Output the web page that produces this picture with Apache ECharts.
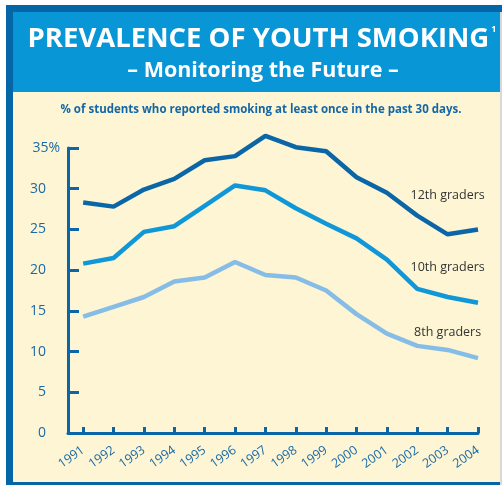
<!DOCTYPE html>
<html><head><meta charset="utf-8">
<script src="https://cdn.jsdelivr.net/npm/echarts@6/dist/echarts.min.js"></script>
<style>html,body{margin:0;padding:0;background:#fff}#c{width:502px;height:485px}</style>
</head><body><div id="c"></div>
<script>
const years = [1991,1992,1993,1994,1995,1996,1997,1998,1999,2000,2001,2002,2003,2004];
const grade12 = [28.3,27.8,29.9,31.2,33.5,34.0,36.5,35.1,34.6,31.4,29.5,26.7,24.4,25.0];
const grade10 = [20.8,21.5,24.7,25.4,27.9,30.4,29.8,27.6,25.7,23.9,21.3,17.7,16.7,16.0];
const grade8  = [14.3,15.5,16.7,18.6,19.1,21.0,19.4,19.1,17.5,14.6,12.2,10.7,10.2,9.2];
const yTicks = [0,5,10,15,20,25,30,35];
const seriesNames = ['12th graders','10th graders','8th graders'];

const FONT = '"Open Sans", sans-serif';
const DARK = '#0a66a6';
const chart = echarts.init(document.getElementById('c'), null, {renderer:'canvas'});

function pts(arr){ return arr.map((v,i)=>[years[i], v]); }
function nameLabel(name, y){
  return {symbol:'circle', symbolSize:0, data:[{coord:[2003,y], value:name}],
    label:{show:true, formatter:'{c}', position:'inside', color:'#333', fontSize:12.5, fontFamily:FONT}};
}

chart.setOption({
  animation:false,
  textStyle:{fontFamily:FONT},
  graphic:[
    {type:'rect', z:-10, shape:{x:6,y:5,width:496,height:480}, style:{fill:'#0466a6'}},
    {type:'rect', z:-9, shape:{x:13,y:12,width:487,height:80}, style:{fill:'#0896d6'}},
    {type:'rect', z:-9, shape:{x:13,y:92,width:487,height:390}, style:{fill:'#fdf5d4'}},
    {type:'rect', z:-9, shape:{x:500,y:12,width:2,height:473}, style:{fill:'#d8d8d8'}}
  ],
  title:[
    {text:'PREVALENCE OF YOUTH SMOKING{s|1}', left:257, top:20, textAlign:'center',
     textStyle:{color:'#fff', fontSize:27.5, fontWeight:'bold', fontFamily:FONT,
       rich:{s:{color:'#fff', fontSize:9, fontWeight:'bold', verticalAlign:'top', padding:[0,0,16,2], fontFamily:FONT}}}},
    {text:'– Monitoring the Future –', left:258, top:55, textAlign:'center',
     textStyle:{color:'#fff', fontSize:21.5, fontWeight:'bold', fontFamily:FONT}},
    {text:'% of students who reported smoking at least once in the past 30 days.', left:256, top:99, textAlign:'center',
     textStyle:{color:'#1467a6', fontSize:11.5, fontWeight:'bold', fontFamily:FONT}}
  ],
  grid:{left:68, right:24, top:148, bottom:52, containLabel:false},
  xAxis:{
    type:'value', min:1990.5, max:2004,
    splitLine:{show:false},
    axisLine:{show:true, lineStyle:{color:DARK, width:3}},
    axisTick:{show:true, inside:true, length:6, customValues:years, lineStyle:{color:DARK, width:3}},
    axisLabel:{customValues:years, rotate:35, margin:16, color:'#1a6aa8', fontSize:12.5, fontFamily:FONT,
      formatter:v=>String(v)}
  },
  yAxis:{
    type:'value', min:0, max:35, interval:5,
    splitLine:{show:false},
    axisLine:{show:true, lineStyle:{color:DARK, width:3}},
    axisTick:{show:true, inside:true, length:11, lineStyle:{color:DARK, width:3}},
    axisLabel:{margin:8, color:'#1a6aa8', fontSize:14, fontFamily:FONT,
      formatter:v=> v===35 ? '{a|35%}' : '{b|'+v+'}',
      rich:{a:{fontSize:14, color:'#1a6aa8', fontFamily:FONT}, b:{fontSize:14, color:'#1a6aa8', padding:[0,14,0,0], fontFamily:FONT}}}
  },
  series:[
    {name:seriesNames[0], type:'line', clip:false, data:pts(grade12), symbol:'none', lineStyle:{color:'#0a66a6', width:4.5}, z:5,
     markPoint:nameLabel(seriesNames[0], 29.2)},
    {name:seriesNames[1], type:'line', clip:false, data:pts(grade10), symbol:'none', lineStyle:{color:'#0f97d8', width:4.5}, z:4,
     markPoint:nameLabel(seriesNames[1], 20.3)},
    {name:seriesNames[2], type:'line', clip:false, data:pts(grade8), symbol:'none', lineStyle:{color:'#86bde6', width:4.5}, z:3,
     markPoint:nameLabel(seriesNames[2], 12.4)}
  ]
});
</script></body></html>
